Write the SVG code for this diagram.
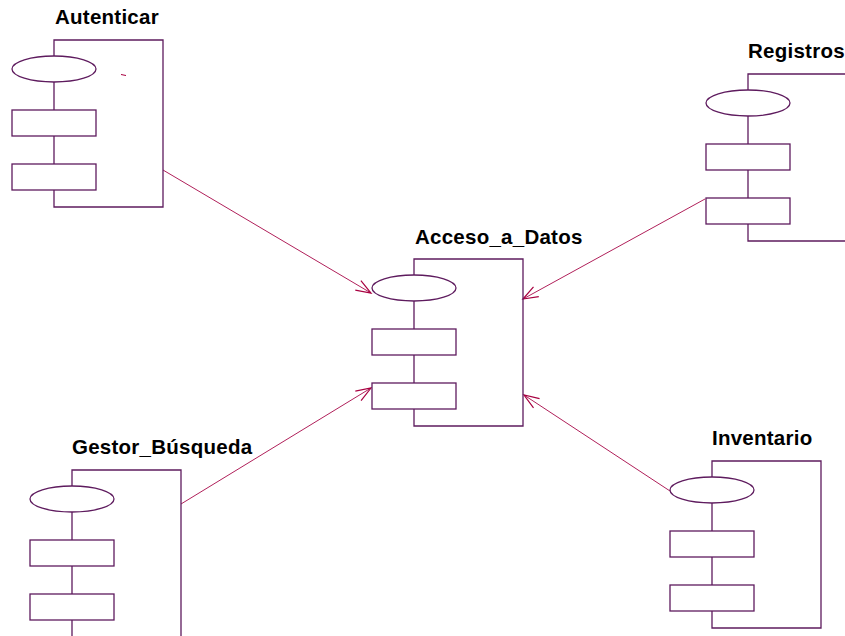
<svg xmlns="http://www.w3.org/2000/svg" width="845" height="636" viewBox="0 0 845 636">
  <style>
    .frame { fill: none; stroke: #5e1b5e; stroke-width: 1.3; }
    .part { fill: #ffffff; stroke: #5e1b5e; stroke-width: 1.3; }
    .label { font-family: "Liberation Sans", Arial, sans-serif; font-weight: bold; font-size: 20.5px; letter-spacing: 0.25px; fill: #000000; }
    .dep { fill: none; stroke: #b0205a; stroke-width: 1; }
  </style>
  <defs>
    <marker id="open-arrow" markerUnits="userSpaceOnUse" markerWidth="20" markerHeight="14" refX="16" refY="7" orient="auto">
      <path d="M1,1.5 L16,7 L1,12.5" fill="none" stroke="#a80040" stroke-width="1.2"/>
    </marker>
    <!-- component symbol: spine, body outline, ellipse and two ports -->
    <g id="component">
      <path class="frame" d="M0,0 H109 V167 H0 Z"/>
      <ellipse class="part" cx="0" cy="29" rx="42" ry="13"/>
      <rect class="part" x="-42" y="70" width="84" height="26"/>
      <rect class="part" x="-42" y="124" width="84" height="26"/>
    </g>
  </defs>

  <g id="connectors">
    <line class="dep" x1="163" y1="170" x2="371" y2="293" marker-end="url(#open-arrow)"/>
    <line class="dep" x1="705" y1="199" x2="523" y2="299" marker-end="url(#open-arrow)"/>
    <line class="dep" x1="181" y1="504" x2="371" y2="388" marker-end="url(#open-arrow)"/>
    <line class="dep" x1="670" y1="491" x2="524" y2="395" marker-end="url(#open-arrow)"/>
  </g>

  <g id="autenticar">
    <use href="#component" x="54" y="40"/>
    <line x1="121" y1="74.5" x2="126" y2="75.5" stroke="#a80040" stroke-width="1"/>
    <text class="label" x="55" y="24">Autenticar</text>
  </g>

  <g id="registros">
    <use href="#component" x="748" y="74"/>
    <text class="label" x="748" y="58">Registros</text>
  </g>

  <g id="acceso_a_datos">
    <use href="#component" x="414" y="259"/>
    <text class="label" x="415" y="244">Acceso_a_Datos</text>
  </g>

  <g id="gestor_busqueda">
    <use href="#component" x="72" y="470"/>
    <text class="label" x="72" y="454">Gestor_Búsqueda</text>
  </g>

  <g id="inventario">
    <use href="#component" x="712" y="461"/>
    <text class="label" x="712" y="445">Inventario</text>
  </g>
</svg>
